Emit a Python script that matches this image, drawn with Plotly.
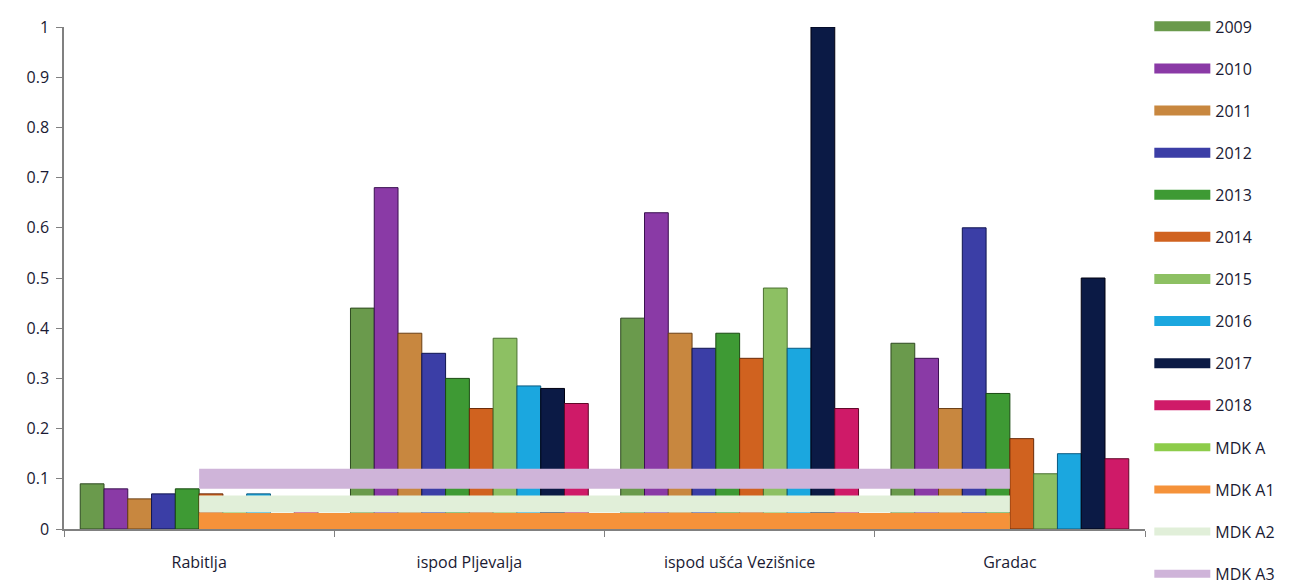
import plotly.graph_objects as go

categories = ["Rabitlja", "ispod Pljevalja", "ispod ušća Vezišnice", "Gradac"]
years = ["2009", "2010", "2011", "2012", "2013", "2014", "2015", "2016", "2017", "2018"]
values = {
    "2009": [0.09, 0.44, 0.42, 0.37],
    "2010": [0.08, 0.68, 0.63, 0.34],
    "2011": [0.06, 0.39, 0.39, 0.24],
    "2012": [0.07, 0.35, 0.36, 0.60],
    "2013": [0.08, 0.30, 0.39, 0.27],
    "2014": [0.07, 0.24, 0.34, 0.18],
    "2015": [0.05, 0.38, 0.48, 0.11],
    "2016": [0.07, 0.285, 0.36, 0.15],
    "2017": [0.03, 0.28, 1.00, 0.50],
    "2018": [0.04, 0.25, 0.24, 0.14],
}
mdk_names = ["MDK A", "MDK A1", "MDK A2", "MDK A3"]
mdk_values = [0.01, 0.015, 0.05, 0.1]

bar_colors = ["#6a9a4c", "#8a3aa6", "#c8873f", "#3b3ea6", "#3e9a34",
              "#d0621f", "#8dc063", "#1ba7df", "#0b1a45", "#cf1a68"]
bar_edges = ["#2f4a20", "#3a1050", "#6a3f15", "#101550", "#1a4a12",
             "#6a2a08", "#4a7030", "#0a5a80", "#000010", "#600828"]
mdk_colors = ["#8dcc4a", "#f5923a", "#e1efd9", "#cfb4d9"]
mdk_widths = [17, 17, 17, 20]

fig = go.Figure()
for i, y in enumerate(years):
    fig.add_trace(go.Bar(
        x=categories, y=values[y], name=y,
        marker=dict(color=bar_colors[i], line=dict(color=bar_edges[i], width=1)),
        showlegend=False,
    ))
for i, n in enumerate(mdk_names):
    fig.add_trace(go.Scatter(
        x=categories, y=[mdk_values[i]] * len(categories), name=n, mode="lines",
        line=dict(color=mdk_colors[i], width=mdk_widths[i]),
        showlegend=False,
    ))

# legend entries (wide swatches)
for i, y in enumerate(years):
    fig.add_trace(go.Scatter(
        x=[None], y=[None], name=y, mode="lines",
        line=dict(color=bar_colors[i], width=14), legendgroup=y,
    ))
for i, n in enumerate(mdk_names):
    fig.add_trace(go.Scatter(
        x=[None], y=[None], name=n, mode="lines",
        line=dict(color=mdk_colors[i], width=8), legendgroup=n,
    ))

font = dict(family="Open Sans, Noto Sans, sans-serif", size=16, color="#1a1a33")
fig.update_layout(
    width=1290, height=577,
    margin=dict(l=56, r=153, t=19, b=56, autoexpand=False),
    paper_bgcolor="white", plot_bgcolor="white",
    barmode="group", bargap=0.12, bargroupgap=0,
    font=font,
    showlegend=True,
    legend=dict(x=1.004, y=1.035, xanchor="left", yanchor="top",
                tracegroupgap=18.3, font=dict(size=16, color="#1a1a33"),
                itemwidth=56, maxheight=700, bgcolor="rgba(0,0,0,0)"),
    xaxis=dict(showline=True, linecolor="#808080", linewidth=1.5,
               ticks="outside", tickson="boundaries", ticklen=6, tickcolor="#808080",
               showgrid=False, tickfont=font, ticklabelstandoff=18),
    yaxis=dict(range=[0, 1.0], dtick=0.1, tick0=0, showline=True, linecolor="#808080",
               linewidth=1.5, ticks="outside", ticklen=6, tickcolor="#808080",
               showgrid=False, zeroline=False, tickfont=font, ticklabelstandoff=4),
)
fig.write_html("out.html")
